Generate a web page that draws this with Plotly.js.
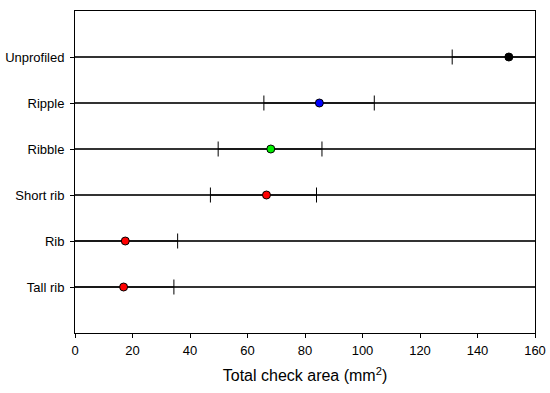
<!DOCTYPE html>
<html>
<head>
<meta charset="utf-8">
<script src="https://cdn.plot.ly/plotly-3.0.1.min.js"></script>
<style>html,body{margin:0;padding:0;background:#fff;}#chart{width:550px;height:393px;}</style>
</head>
<body>
<div id="chart"></div>
<script>
const categories = ["Unprofiled", "Ripple", "Ribble", "Short rib", "Rib", "Tall rib"];
const meanArea = [150.9, 85.0, 68.1, 66.6, 17.5, 16.9];
const errMinus = [19.7, 19.3, 18.3, 19.5, 18.2, 17.5];
const errPlus = [19.7, 19.1, 17.8, 17.4, 18.2, 17.5];
const pointColors = ["#000000", "#0000ff", "#00ee00", "#ff0000", "#ff0000", "#ff0000"];

const trace = {
  type: "scatter",
  mode: "markers",
  x: meanArea,
  y: categories,
  marker: {size: 8, color: pointColors, line: {color: "#000000", width: 1}},
  error_x: {type: "data", symmetric: false, array: errPlus, arrayminus: errMinus,
            color: "#000000", thickness: 1, width: 7.5},
  cliponaxis: true,
  hoverinfo: "x+y"
};

const layout = {
  width: 550, height: 393,
  margin: {l: 75, r: 15, t: 11, b: 60},
  paper_bgcolor: "#ffffff", plot_bgcolor: "#ffffff",
  showlegend: false,
  font: {family: "Liberation Sans, Arial, sans-serif", color: "#000000", size: 13},
  xaxis: {
    range: [0, 160], tickvals: [0, 20, 40, 60, 80, 100, 120, 140, 160],
    ticks: "outside", ticklen: 4, tickcolor: "#000", tickwidth: 1,
    showline: true, linecolor: "#000", linewidth: 1, mirror: true,
    showgrid: false, zeroline: false,
    tickfont: {size: 13}, ticklabelstandoff: 1,
    title: {text: "Total check area (mm<sup>2</sup>)", font: {size: 16}, standoff: 13}
  },
  yaxis: {
    type: "category", categoryorder: "array", categoryarray: categories,
    range: [6, -1],
    ticks: "outside", ticklen: 4, tickcolor: "#000", tickwidth: 1,
    showline: true, linecolor: "#000", linewidth: 1, mirror: true,
    showgrid: true, gridcolor: "#333333", gridwidth: 1.2,
    zeroline: false, tickfont: {size: 13}, ticklabelstandoff: 3
  }
};

Plotly.newPlot("chart", [trace], layout, {staticPlot: true, displayModeBar: false});
</script>
</body>
</html>
